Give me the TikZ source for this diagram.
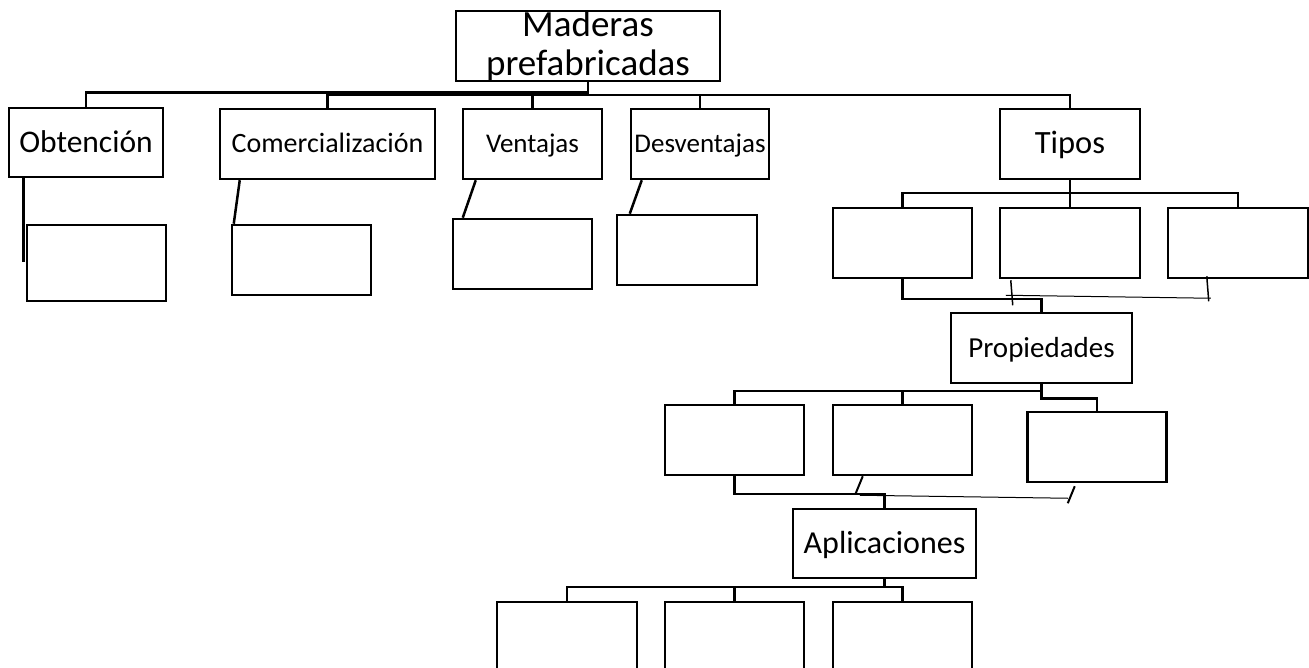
\documentclass[tikz,border=0pt]{standalone}
\usepackage{fontspec}
\setmainfont{Carlito}

\begin{document}
\begin{tikzpicture}[x=1pt,y=-1pt,line width=2.5pt,inner sep=0pt,
  cbox/.style={draw,rectangle,minimum width=139pt,minimum height=70pt,text depth=0pt},
  big/.style={font=\fontsize{31.5}{36}\selectfont,text height=20pt},
  mid/.style={font=\fontsize{27}{32}\selectfont,text height=17pt}]
\useasboundingbox (0,0) rectangle (1309,668);

\coordinate (busA) at (0,92.5);
\coordinate (busB) at (0,95);
\coordinate (tbus) at (0,193);
\coordinate (tlow) at (0,299);
\coordinate (pbus) at (0,391);
\coordinate (plow) at (0,494);
\coordinate (abus) at (0,587);

% top
\node[cbox,minimum width=264pt] (mad) at (588,46) {};
\node[font=\fontsize{37}{40}\selectfont,anchor=base] (madt) at (588,37) {Maderas};
\node[font=\fontsize{37}{40}\selectfont,anchor=base] (madb) at (588,76) {prefabricadas};

% first row
\node[cbox,minimum width=154pt,minimum height=69pt,big] (obt) at (86,142.5) {Obtención};
\node[cbox,minimum width=215pt,mid,font=\fontsize{28}{32}\selectfont,text height=17.7pt] (com) at (327.5,144) {Comercialización};
\node[cbox,mid] (ven) at (532.5,144) {Ventajas};
\node[cbox,minimum width=138pt,mid] (des) at (700,144) {Desventajas};
\node[cbox,minimum width=140pt,big,font=\fontsize{32.5}{36}\selectfont] (tip) at (1070,144) {Tipos};

\node[cbox,minimum height=76pt] (obtc) at (96.5,263) {};
\node[cbox] (comc) at (301.5,260) {};
\node[cbox] (venc) at (522.5,254) {};
\node[cbox,minimum width=140pt] (desc) at (687,250) {};

% tipos
\node[cbox] (ta) at (902.5,243) {};
\node[cbox,minimum width=140pt] (tb) at (1070,243) {};
\node[cbox,minimum width=140pt] (tc) at (1238,243) {};

% propiedades
\node[cbox,minimum width=181pt,font=\fontsize{29}{34}\selectfont,text height=18.3pt] (prop) at (1041.5,348) {Propiedades};
\node[cbox] (pa) at (734.5,440) {};
\node[cbox] (pb) at (902.5,440) {};
\node[cbox] (pc) at (1097,447) {};

% aplicaciones
\node[cbox,minimum width=183pt,minimum height=69pt,font=\fontsize{32}{36}\selectfont,text height=20.2pt] (apl) at (884.5,543.5) {Aplicaciones};
\node[cbox,minimum width=140pt,minimum height=80pt] (aa) at (567,642) {};
\node[cbox,minimum height=80pt] (ab) at (734.5,642) {};
\node[cbox,minimum height=80pt] (ac) at (902.5,642) {};

\draw (obt.north) -- (obt.north |- busA) -| (mad.south);
\draw (com.north) -- (com.north |- busB) -| (tip.north);
\draw (ven.north) -- (ven.north |- busB);
\draw (des.north) -- (des.north |- busB);

\draw ([xshift=15.5pt]obt.south west) -- ([xshift=-2.5pt,yshift=-38pt]obtc.north west);
\draw ([xshift=21pt]com.south west) -- ([xshift=3pt]comc.north west);
\draw ([xshift=14pt]ven.south west) -- ([xshift=11pt]venc.north west);
\draw ([xshift=12pt]des.south west) -- ([xshift=14pt]desc.north west);

\draw (ta.north) -- (ta.north |- tbus) -- (tc.north |- tbus) -- (tc.north);
\draw (tip.south) -- (tb.north);
\draw (ta.south) -- (ta.south |- tlow) -| (prop.north);
\draw[line width=1.5pt] ([xshift=12pt,yshift=-1pt]tb.south west) -- ([xshift=14pt,yshift=-26pt]tb.south west);
\draw[line width=1pt] ([xshift=7pt,yshift=-16pt]tb.south west) -- ([xshift=44pt,yshift=-19pt]tc.south west);
\draw[line width=1.5pt] ([xshift=40pt,yshift=3pt]tc.south west) -- ([xshift=42pt,yshift=-22pt]tc.south west);

\draw (pa.north) -- (pa.north |- pbus) -| (prop.south);
\draw (pb.north) -- (pb.north |- pbus);
\draw (prop.south) -- ++(0,14) -| (pc.north);
\draw (pa.south) -- (pa.south |- plow) -| (apl.north);
\draw[line width=2pt] ([xshift=31pt]pb.south west) -- ([xshift=24pt,yshift=-17pt]pb.south west);
\draw[line width=1pt] ([xshift=28pt,yshift=-19pt]pb.south west) -- ([xshift=41.5pt,yshift=-15pt]pc.south west);
\draw[line width=2pt] ([xshift=48.5pt,yshift=-3pt]pc.south west) -- ([xshift=41.5pt,yshift=-20pt]pc.south west);

\draw (apl.south) -- (apl.south |- abus);
\draw (aa.north) -- (aa.north |- abus) -| (ac.north);
\draw (ab.north) -- (ab.north |- abus);
\end{tikzpicture}
\end{document}
